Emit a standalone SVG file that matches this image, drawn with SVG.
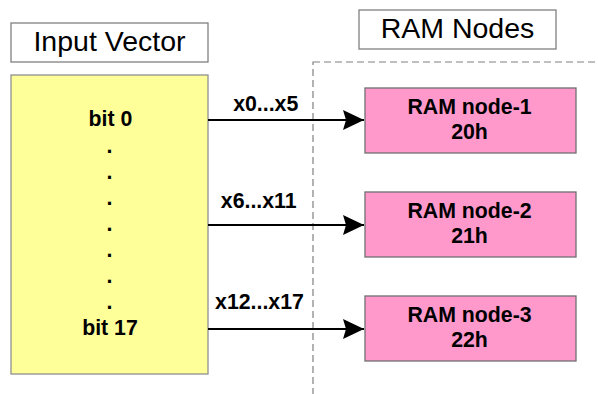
<svg xmlns="http://www.w3.org/2000/svg" width="598" height="394" viewBox="0 0 598 394">
  <style>
    .title { font-family: "Liberation Sans", Arial, sans-serif; font-size: 28.5px; fill: #000; text-anchor: middle; }
    .lbl { font-family: "Liberation Sans", Arial, sans-serif; font-size: 21.3px; font-weight: bold; fill: #000; text-anchor: middle; }
    .caption { fill: #ffffff; stroke: #808080; stroke-width: 1.3; }
    .vector { fill: #ffff99; stroke: #909090; stroke-width: 1.3; }
    .ram { fill: #ff99cc; stroke: #707070; stroke-width: 1.3; }
    .group { fill: none; stroke: #808080; stroke-width: 1.2; stroke-dasharray: 7 4; }
    .wire { fill: none; stroke: #000; stroke-width: 2; }
  </style>
  <defs>
    <marker id="arrow" markerUnits="userSpaceOnUse" markerWidth="22" markerHeight="20" refX="21" refY="10" orient="auto">
      <path d="M0,0 L21,10 L0,20 L3,10 Z" fill="#000"/>
    </marker>
  </defs>

  <rect width="598" height="394" fill="#ffffff"/>

  <!-- RAM node container (runs off the page edge) -->
  <rect id="ram-group" class="group" x="313" y="62" width="300" height="345"/>

  <g id="input-vector-caption">
    <rect class="caption" x="11" y="23" width="197" height="39"/>
    <text class="title" x="109.5" y="51">Input Vector</text>
  </g>

  <g id="ram-nodes-caption">
    <rect class="caption" x="359" y="10" width="197" height="39"/>
    <text class="title" x="457.5" y="38">RAM Nodes</text>
  </g>

  <g id="input-vector">
    <rect class="vector" x="11" y="75" width="197" height="299"/>
    <text class="lbl" x="110.5" y="126">bit 0</text>
    <text class="lbl" x="109.5" y="152.5">.</text>
    <text class="lbl" x="109.5" y="178.5">.</text>
    <text class="lbl" x="109.5" y="204.5">.</text>
    <text class="lbl" x="109.5" y="230.5">.</text>
    <text class="lbl" x="109.5" y="256.5">.</text>
    <text class="lbl" x="109.5" y="282.5">.</text>
    <text class="lbl" x="109.5" y="308.5">.</text>
    <text class="lbl" x="110" y="335">bit 17</text>
  </g>

  <g id="ram-node-1">
    <rect class="ram" x="365" y="88" width="211" height="65"/>
    <text class="lbl" x="469.5" y="113.7">RAM node-1</text>
    <text class="lbl" x="469.5" y="138.7">20h</text>
  </g>

  <g id="ram-node-2">
    <rect class="ram" x="365" y="192" width="211" height="65"/>
    <text class="lbl" x="469.5" y="217.7">RAM node-2</text>
    <text class="lbl" x="469.5" y="242.7">21h</text>
  </g>

  <g id="ram-node-3">
    <rect class="ram" x="365" y="296" width="211" height="65"/>
    <text class="lbl" x="469.5" y="321.7">RAM node-3</text>
    <text class="lbl" x="469.5" y="346.7">22h</text>
  </g>

  <g id="connectors">
    <line class="wire" x1="208" y1="120" x2="364" y2="120" marker-end="url(#arrow)"/>
    <line class="wire" x1="208" y1="225" x2="364" y2="225" marker-end="url(#arrow)"/>
    <line class="wire" x1="208" y1="329" x2="364" y2="329" marker-end="url(#arrow)"/>
    <text class="lbl" x="265.7" y="111">x0...x5</text>
    <text class="lbl" x="258.7" y="208.3">x6...x11</text>
    <text class="lbl" x="259.5" y="309.3">x12...x17</text>
  </g>
</svg>
